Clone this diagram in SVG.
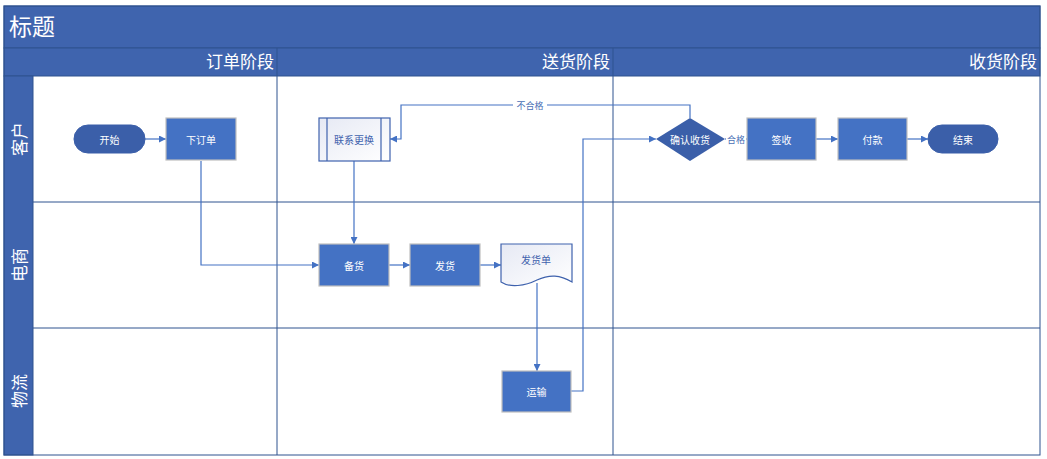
<svg xmlns="http://www.w3.org/2000/svg" width="1047" height="459" viewBox="0 0 1047 459">
<style>
text{font-family:"Noto Sans CJK SC","Noto Sans",sans-serif}
.band{fill:#3F64AE;stroke:#2F528F;stroke-width:1}
.grid{fill:none;stroke:#2F528F;stroke-width:1}
.hd{fill:#fff;font-size:17px}
.proc{fill:#4472C4;stroke:#BFBFBF;stroke-width:1.2}
.term{fill:#3B5FA9;stroke:#3B5FA9;stroke-width:1}
.pale{fill:url(#pg);stroke:#3F62AD;stroke-width:1.2}
.nt{fill:#fff;font-size:10px;text-anchor:middle;dominant-baseline:central}
.bt{fill:#3F62AD;font-size:10px;text-anchor:middle;dominant-baseline:central}
.ln{fill:none;stroke:#4472C4;stroke-width:1.2}
.arr{marker-end:url(#ah)}
.lbl{fill:#4A6FB5;font-size:9px;text-anchor:middle;dominant-baseline:central}
</style>
<defs>
<marker id="ah" viewBox="0 0 10 10" refX="10" refY="5" markerWidth="7" markerHeight="7" markerUnits="userSpaceOnUse" orient="auto">
<path d="M0,0 L10,5 L0,10 Z" fill="#4472C4"/>
</marker>
<linearGradient id="pg" x1="0" y1="0" x2="1" y2="1">
<stop offset="0" stop-color="#E6E9F4"/>
<stop offset="1" stop-color="#FFFFFF"/>
</linearGradient>
</defs>
<rect x="0" y="0" width="1047" height="459" fill="#fff"/>
<g id="frame">
<rect class="band" x="4" y="6" width="1036" height="42"/>
<rect class="band" x="4" y="48" width="1036" height="28"/>
<rect class="band" x="4" y="76" width="29" height="379"/>
<rect class="grid" x="4" y="6" width="1036" height="449"/>
<line class="grid" x1="33" y1="202" x2="1040" y2="202"/>
<line class="grid" x1="33" y1="328" x2="1040" y2="328"/>
<line class="grid" x1="277" y1="48" x2="277" y2="455"/>
<line class="grid" x1="613" y1="48" x2="613" y2="455"/>
<text x="9" y="35" fill="#fff" font-size="23">标题</text>
<text class="hd" x="274" y="68" text-anchor="end">订单阶段</text>
<text class="hd" x="610" y="68" text-anchor="end">送货阶段</text>
<text class="hd" x="1037" y="68" text-anchor="end">收货阶段</text>
<text class="hd" transform="translate(18.5,139) rotate(-90)" text-anchor="middle" dominant-baseline="central">客户</text>
<text class="hd" transform="translate(18.5,265) rotate(-90)" text-anchor="middle" dominant-baseline="central">电商</text>
<text class="hd" transform="translate(18.5,391) rotate(-90)" text-anchor="middle" dominant-baseline="central">物流</text>
</g>
<g id="connectors">
<line class="ln arr" x1="145" y1="139" x2="166" y2="139"/>
<polyline class="ln arr" points="201,161 201,265 319,265"/>
<line class="ln arr" x1="354" y1="161" x2="354" y2="244"/>
<line class="ln arr" x1="389" y1="265" x2="410" y2="265"/>
<line class="ln arr" x1="480" y1="265" x2="501" y2="265"/>
<line class="ln arr" x1="537" y1="283" x2="537" y2="371"/>
<polyline class="ln arr" points="571,391 583,391 583,139 656,139"/>
<polyline class="ln arr" points="690,118 690,105 401,105 401,139 390,139"/>
<rect x="513" y="99" width="34" height="12" fill="#fff"/>
<text class="lbl" x="530" y="105">不合格</text>
<line class="ln" x1="725" y1="139" x2="747" y2="139"/>
<rect x="726" y="133" width="20" height="12" fill="#fff"/>
<text class="lbl" x="736" y="139">合格</text>
<line class="ln arr" x1="816" y1="139" x2="838" y2="139"/>
<line class="ln arr" x1="907" y1="139" x2="928" y2="139"/>
</g>
<g id="start"><rect class="term" x="74" y="125" width="71" height="28" rx="14"/><text class="nt" x="109.5" y="139">开始</text></g>
<g id="order"><rect class="proc" x="166" y="118" width="70" height="42"/><text class="nt" x="201" y="139">下订单</text></g>
<g id="contact"><rect class="pale" x="319" y="118" width="71" height="43"/><line x1="327" y1="118" x2="327" y2="161" stroke="#3F62AD" stroke-width="1.2"/><line x1="381" y1="118" x2="381" y2="161" stroke="#3F62AD" stroke-width="1.2"/><text class="bt" x="354" y="139">联系更换</text></g>
<g id="confirm"><polygon points="690,118 725,139 690,161 656,139" fill="#3B5FA9"/><text class="nt" x="690" y="139">确认收货</text></g>
<g id="sign"><rect class="proc" x="747" y="118" width="69" height="42"/><text class="nt" x="781.5" y="139">签收</text></g>
<g id="pay"><rect class="proc" x="838" y="118" width="69" height="42"/><text class="nt" x="872.5" y="139">付款</text></g>
<g id="end"><rect class="term" x="928" y="125" width="70" height="28" rx="14"/><text class="nt" x="963" y="139">结束</text></g>
<g id="prepare"><rect class="proc" x="319" y="244" width="70" height="42"/><text class="nt" x="354" y="265">备货</text></g>
<g id="ship"><rect class="proc" x="410" y="244" width="70" height="42"/><text class="nt" x="445" y="265">发货</text></g>
<g id="invoice"><path class="pale" d="M501,244 H572 V282 C560,275 550,274 537,280 C525,286 510,288 501,282 Z"/><text class="bt" x="536" y="259">发货单</text></g>
<g id="transport"><rect class="proc" x="502" y="371" width="69" height="41"/><text class="nt" x="536.5" y="391">运输</text></g>
</svg>
